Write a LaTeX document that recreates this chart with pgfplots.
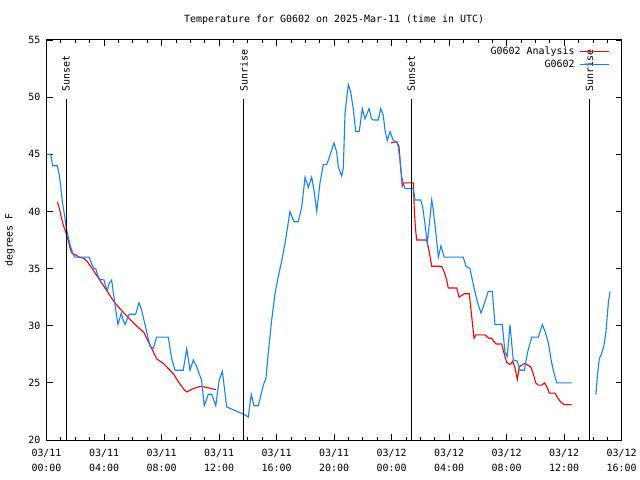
\documentclass[border=0pt]{standalone}
\usepackage{pgfplots}
\pgfplotsset{compat=1.18}
\usepackage{fontspec}
\setmainfont{DejaVu Sans Mono}
\definecolor{gpblue}{RGB}{20,130,255}
\definecolor{gpred}{RGB}{255,0,0}
\begin{document}
\begin{tikzpicture}[font=\fontsize{10}{13}\selectfont]
\begin{axis}[
  at={(0,0)}, anchor=south west,
  scale only axis, width=575.2bp, height=400bp,
  xmin=0, xmax=40, ymin=20, ymax=55,
  xtick={0,4,...,40},
  xticklabels={{03/11\\00:00},{03/11\\04:00},{03/11\\08:00},{03/11\\12:00},{03/11\\16:00},{03/11\\20:00},{03/12\\00:00},{03/12\\04:00},{03/12\\08:00},{03/12\\12:00},{03/12\\16:00}},
  xticklabel style={align=center, inner sep=0pt, yshift=-9bp, font=\fontsize{10}{14.5}\selectfont},
  minor x tick num=3,
  ytick={20,25,...,55},
  yticklabel style={inner sep=0pt, xshift=-6bp},
  /pgf/number format/assume math mode=true,
  major tick length=6bp, minor tick length=3bp,
  tick style={black, line width=0.8bp},
  axis line style={line width=1bp},
  unbounded coords=jump,
  title={Temperature for G0602 on 2025-Mar-11 (time in UTC)},
  title style={inner sep=0pt, yshift=9bp},
  ylabel={degrees F},
  ylabel style={at={(axis description cs:-0.0635,0.5)}, anchor=center, inner sep=0pt},
  legend style={at={(1,1)}, anchor=north east, xshift=-11.7bp, yshift=-6bp, draw=none, fill=none, inner sep=0pt, row sep=2bp, nodes={inner sep=1bp}, column sep=4bp},
  legend cell align=right, legend plot pos=right,
  legend image code/.code={\draw[#1] (0bp,0bp) -- (29bp,0bp);},
]
\addplot[gpred, line width=1.1bp] coordinates {
(0.75,40.85) (0.89,40.3) (1.03,39.5) (1.17,38.8) (1.34,38.2) (1.50,37.5) (1.68,36.6) (1.79,36.3)
(2.03,36.2) (2.26,36.0) (2.61,35.9) (2.84,35.6) (3.18,35.0) (3.65,34.1) (4.23,33.0) (4.69,32.1)
(5.39,31.1) (6.08,30.2) (6.78,29.4) (7.08,28.6) (7.32,28.0) (7.66,27.1) (8.12,26.7) (8.59,26.1)
(8.82,25.8) (9.17,25.1) (9.51,24.5) (9.75,24.2) (10.21,24.5) (10.72,24.7) (11.14,24.6) (11.79,24.4)
(17.0,nan)
(23.96,46.0) (24.35,46.1) (24.51,45.7) (24.58,44.6) (24.65,43.6) (24.74,42.2) (24.86,42.5) (25.51,42.5)
(25.58,40.0) (25.67,38.4) (25.74,37.5) (26.44,37.5) (26.60,36.6) (26.72,35.7) (26.79,35.2) (27.48,35.2)
(27.66,34.7) (27.83,34.0) (27.94,33.3) (28.53,33.3) (28.69,32.5) (29.05,32.8) (29.40,32.8) (29.57,30.8)
(29.73,28.9) (29.87,29.2) (30.49,29.2) (30.77,28.9) (30.96,28.9) (31.12,28.6) (31.26,28.4) (31.65,28.4)
(31.88,27.3) (32.00,26.8) (32.23,26.6) (32.42,26.9) (32.58,26.3) (32.74,25.3) (32.88,26.4) (33.12,26.6)
(33.28,26.7) (33.67,26.4) (33.85,25.8) (34.02,25.0) (34.20,24.8) (34.44,24.8) (34.62,25.0) (34.78,24.7)
(34.97,24.1) (35.36,24.1) (35.59,23.6) (35.78,23.3) (35.99,23.1) (36.52,23.1)
};
\addlegendentry{G0602 Analysis}
\addplot[gpblue, line width=1.1bp] coordinates {
(0.01,45.0) (0.29,45.0) (0.43,44.0) (0.75,44.0) (0.89,43.2) (0.99,42.2) (1.10,40.9) (1.27,39.5)
(1.36,38.7) (1.50,37.8) (1.68,36.9) (1.84,36.3) (1.98,36.0) (2.96,36.0) (3.18,35.3) (3.30,35.0)
(3.42,35.0) (3.65,34.1) (4.00,34.0) (4.12,33.4) (4.23,33.1) (4.35,33.7) (4.53,34.0) (4.69,32.5)
(4.81,31.4) (4.97,30.1) (5.20,31.1) (5.32,30.5) (5.46,30.1) (5.74,31.0) (6.20,31.0) (6.43,32.0)
(6.59,31.5) (7.20,28.2) (7.43,28.0) (7.66,29.0) (8.47,29.0) (8.71,27.1) (8.94,26.1) (9.51,26.1)
(9.75,28.0) (9.98,26.1) (10.21,27.0) (10.45,26.4) (10.79,25.2) (10.97,23.0) (11.25,24.0) (11.49,24.0)
(11.77,23.0) (12.00,25.2) (12.23,26.0) (12.53,22.9) (13.80,22.2) (14.03,22.0) (14.24,24.0) (14.43,23.0)
(14.73,23.0) (15.08,24.8) (15.26,25.4) (15.42,27.6) (15.66,30.5) (15.89,32.8) (16.12,34.3) (16.36,35.7)
(16.59,37.2) (16.82,39.1) (16.93,40.0) (17.21,39.1) (17.51,39.1) (17.75,40.4) (17.98,43.0) (18.21,42.1)
(18.44,43.0) (18.60,41.9) (18.79,40.0) (19.02,42.5) (19.25,44.1) (19.49,44.1) (19.71,44.9) (19.99,46.0)
(20.18,45.2) (20.29,43.9) (20.53,43.1) (20.64,43.8) (20.76,48.6) (20.99,51.1) (21.15,50.5) (21.34,48.9)
(21.50,47.0) (21.75,47.0) (21.96,49.0) (22.15,48.1) (22.43,49.0) (22.61,48.1) (22.73,48.0) (23.07,48.0)
(23.24,49.0) (23.42,48.4) (23.54,47.1) (23.70,46.2) (23.89,47.0) (24.12,46.2) (24.35,46.1) (24.46,45.7)
(24.58,44.5) (24.70,43.0) (24.81,42.5) (24.93,42.0) (25.51,42.0) (25.63,41.0) (26.02,41.0) (26.16,40.4)
(26.32,38.9) (26.48,37.2) (26.62,38.9) (26.79,41.0) (26.90,40.1) (27.07,38.2) (27.25,36.0) (27.43,37.0)
(27.66,36.0) (28.98,36.0) (29.17,35.2) (29.45,35.0) (29.68,33.6) (29.96,32.1) (30.22,31.1) (30.49,32.1)
(30.72,33.0) (31.00,33.0) (31.19,30.1) (31.70,30.1) (31.88,27.7) (32.04,27.3) (32.23,30.1) (32.37,28.2)
(32.46,27.0) (32.74,26.9) (32.93,26.1) (33.23,26.1) (33.34,26.9) (33.50,27.9) (33.74,29.0) (34.20,29.0)
(34.48,30.1) (34.67,29.5) (34.90,28.5) (35.08,27.1) (35.24,26.1) (35.48,25.0) (36.52,25.0)
(37.4,nan)
(38.21,24.0) (38.30,25.5) (38.44,27.1) (38.61,27.6) (38.77,28.3) (38.91,29.5) (39.07,32.0) (39.19,33.0)
};
\addlegendentry{G0602}
\addplot[black, line width=1bp, forget plot] coordinates {(1.36,20) (1.36,49.83)};
\addplot[black, line width=1bp, forget plot] coordinates {(13.73,20) (13.73,49.83)};
\addplot[black, line width=1bp, forget plot] coordinates {(25.37,20) (25.37,49.83)};
\addplot[black, line width=1bp, forget plot] coordinates {(37.75,20) (37.75,49.83)};
\node[rotate=90, anchor=west, inner sep=0pt] at (axis cs:1.36,50.45) {Sunset};
\node[rotate=90, anchor=west, inner sep=0pt] at (axis cs:13.73,50.45) {Sunrise};
\node[rotate=90, anchor=west, inner sep=0pt] at (axis cs:25.37,50.45) {Sunset};
\node[rotate=90, anchor=west, inner sep=0pt] at (axis cs:37.75,50.45) {Sunrise};
\end{axis}
\pgfresetboundingbox
\path[use as bounding box] (-46.5bp,-40bp) rectangle (593.5bp,440bp);
\end{tikzpicture}
\end{document}
